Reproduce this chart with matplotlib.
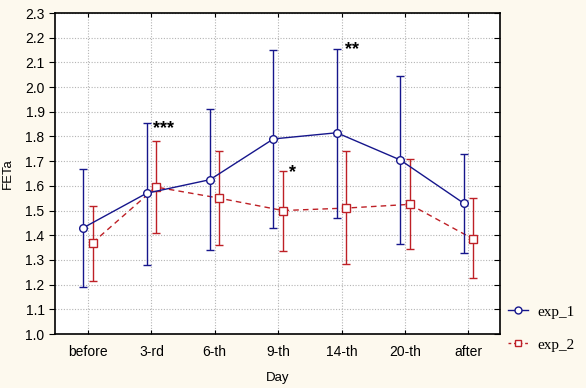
import numpy as np
import matplotlib
matplotlib.use("Agg")
import matplotlib.pyplot as plt
from matplotlib.lines import Line2D

# data
days = ["before", "3-rd", "6-th", "9-th", "14-th", "20-th", "after"]

exp1_mean = [1.43, 1.57, 1.625, 1.79, 1.815, 1.705, 1.53]
exp1_hi = [1.67, 1.855, 1.91, 2.15, 2.155, 2.045, 1.73]
exp1_lo = [1.19, 1.28, 1.34, 1.43, 1.47, 1.365, 1.33]

exp2_mean = [1.37, 1.595, 1.55, 1.50, 1.51, 1.525, 1.385]
exp2_hi = [1.52, 1.78, 1.74, 1.66, 1.74, 1.71, 1.55]
exp2_lo = [1.215, 1.41, 1.36, 1.335, 1.285, 1.345, 1.225]

# significance marks: (x position, y, text)
star_x = [1.03, 3.17, 4.05]
star_y = [1.83, 1.655, 2.15]
star_txt = ["***", "*", "**"]

plt.rcParams['font.family'] = ['Liberation Sans', 'DejaVu Sans']

BG = '#FDF9EE'
BLUE = '#16168C'
RED = '#BE2026'

fig = plt.figure(figsize=(5.86, 3.88), dpi=100)
fig.patch.set_facecolor(BG)
ax = fig.add_axes([55 / 586, 54 / 388, 445 / 586, 321 / 388])
ax.set_facecolor('white')

x = np.arange(len(days))
off = 0.075

m1 = np.array(exp1_mean)
m2 = np.array(exp2_mean)
err1 = [m1 - np.array(exp1_lo), np.array(exp1_hi) - m1]
err2 = [m2 - np.array(exp2_lo), np.array(exp2_hi) - m2]

ax.errorbar(x - off, m1, yerr=err1, color=BLUE, lw=1, marker='o', ms=5.5,
            mfc='white', mec=BLUE, mew=1, capsize=3.2, elinewidth=1,
            capthick=1, zorder=4)
ax.errorbar(x + off, m2, yerr=err2, color=RED, lw=1, ls=(0, (4, 3)),
            marker='s', ms=5.5, mfc='white', mec=RED, mew=1, capsize=3.2,
            elinewidth=1, capthick=1, zorder=3)

for sx, sy, t in zip(star_x, star_y, star_txt):
    ax.text(sx, sy, t, fontsize=13, fontweight='bold', color='black',
            ha='left', va='center', zorder=5)

ax.set_xlim(-0.52, 6.5)
ax.set_ylim(1.0, 2.3)
ax.set_xticks(x)
ax.set_xticklabels(days)
yt = np.arange(1.0, 2.31, 0.1)
ax.set_yticks(yt)
ax.set_yticklabels([f"{v:.1f}" for v in yt])

ax.grid(True, color='#b4b4b4', ls=(0, (1, 1.5)), lw=0.8)
ax.set_axisbelow(True)

ax.tick_params(axis='y', which='both', direction='out', length=4,
               right=True, labelsize=10, color='black')
ax.tick_params(axis='x', which='both', direction='in', length=3,
               top=True, labelsize=10, pad=8)
for s in ax.spines.values():
    s.set_linewidth(1.2)
    s.set_color('black')

ax.set_xlabel("Day", fontsize=9.5, labelpad=9)
ax.set_ylabel("FETa", fontsize=9.5, labelpad=8)

# right side ticks point inward
for t in ax.yaxis.get_ticklines()[1::2]:
    t.set_marker(matplotlib.lines.TICKLEFT)

h1 = Line2D([], [], color=BLUE, lw=1, marker='o', ms=5, mfc='white', mec=BLUE)
h2 = Line2D([], [], color=RED, lw=1, ls=(0, (2, 2)), marker='s', ms=5,
            mfc='white', mec=RED)
fig.legend([h1, h2], ["exp_1", "exp_2"], loc='upper left',
           bbox_to_anchor=(505 / 586, 1 - 302 / 388), frameon=False,
           handlelength=1.3, handletextpad=0.6, labelspacing=1.25,
           borderaxespad=0, borderpad=0.2,
           prop={'family': 'Liberation Serif', 'size': 11})

fig.savefig("out.png", dpi=100, facecolor=BG)
